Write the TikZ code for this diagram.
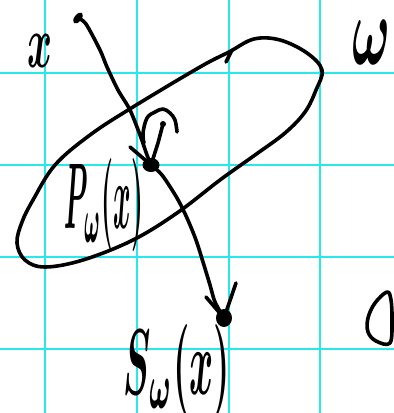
\documentclass[tikz,border=0pt]{standalone}
\usepackage{graphicx}
\usetikzlibrary{shapes.geometric}
\definecolor{gridcyan}{RGB}{40,232,236}
\begin{document}
\begin{tikzpicture}[x=1pt,y=-1pt,
  ink/.style={line width=3.6pt, line cap=round, line join=round},
  gridline/.style={gridcyan, line width=1.8pt},
  dotnode/.style={fill=black, inner sep=0pt},
  hand/.style={inner sep=0pt, font=\boldmath}]
\useasboundingbox (0,0) rectangle (394,413);
\fill[white] (0,0) rectangle (394,413);
\begin{scope}
\clip (0,0) rectangle (394,413);
% grid
\foreach \gx in {45,137,229,320} \draw[gridline] (\gx,0) -- (\gx,413);
\foreach \gy in {73,165,257,349} \draw[gridline] (0,\gy) -- (394,\gy);
% partial shape at right edge
\draw[ink] plot[smooth cycle, tension=0.6] coordinates {(387,292) (375,303) (368,318) (368,332) (376,341) (390,343) (392,320) (391,300)};
\end{scope}
% ellipse (set)
\draw[ink] plot[smooth cycle, tension=0.6] coordinates {(254,39) (280,40) (307,53) (322,70) (316,90) (305,112) (285,133) (255,155) (220,180) (177,213) (133,240) (83,260) (45,267) (25,260) (17,243) (22,222) (33,200) (55,165) (90,135) (133,107) (200,67) (229,52)};
\draw[ink] (226,62) -- (232,50);
% points
\node[dotnode, ellipse, minimum width=13pt, minimum height=7pt, rotate=52] (xpt) at (78,18) {};
\node[dotnode, ellipse, minimum width=17pt, minimum height=14pt] (ppt) at (151,165) {};
\node[dotnode, ellipse, minimum width=16pt, minimum height=18pt] (spt) at (224,318) {};
% connector x -> P
\draw[ink] plot[smooth, tension=0.5] coordinates {(xpt.center) (86,24) (100,50) (107,67) (118,90) (130,110) (140,135) (147,155) (ppt.center)};
% connector P -> S
\draw[ink] plot[smooth, tension=0.5] coordinates {(ppt.center) (162,175) (177,198) (187,218) (196,240) (203,262) (210,285) (215,302) (spt.center)};
% arrow marks at P
\coordinate (pb1) at (130,147);
\coordinate (pb2) at (163,124);
\draw[ink] (pb1) -- (ppt.center);
\draw[ink] (ppt.center) -- (158,143) -- (pb2);
\fill (pb2) circle (3pt);
\draw[ink] plot[smooth, tension=0.6] coordinates {(144,143) (143,133) (147,118) (155,112) (163,109) (170,113) (175,120) (177,132)};
% arrow marks at S
\coordinate (sb1) at (206,297);
\coordinate (sb2) at (236,283);
\draw[ink] (sb1) -- (spt.center);
\draw[ink] (sb2) -- (spt.center);
% labels
\node[hand] (xlab) at (40.5,51) {\resizebox{25pt}{33pt}{$x$}};
\node[hand] (omlab) at (372,42) {\resizebox{38pt}{44pt}{$\omega$}};
\node[hand] (plab) at (104,205) {\resizebox{78pt}{70pt}{$P_\omega(x)$}};
\node[hand] (slab) at (177,371) {\resizebox{106pt}{70pt}{$S_\omega(x)$}};
\end{tikzpicture}
\end{document}
